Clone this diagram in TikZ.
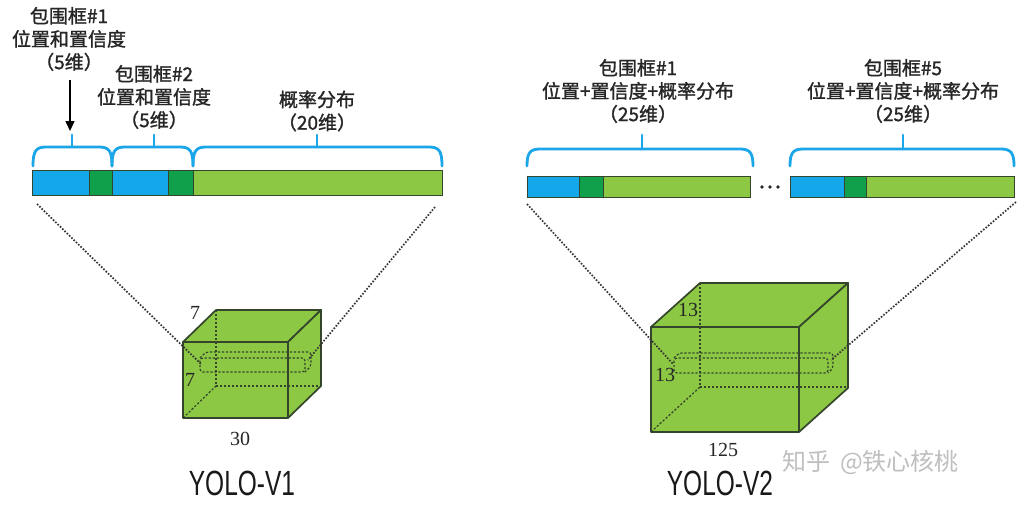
\documentclass[tikz,border=0pt]{standalone}
\usepackage{fontspec}
\setmainfont{Liberation Serif}
\setsansfont{Liberation Sans}
\newfontfamily\cjk[FakeBold=1.3]{Noto Sans CJK SC}
\newfontfamily\cjkw{Noto Sans CJK SC}
\usetikzlibrary{arrows.meta}
\definecolor{cblue}{HTML}{14A8EA}
\definecolor{dgreen}{HTML}{10A04C}
\definecolor{lgreen}{HTML}{8CC843}
\definecolor{bracec}{HTML}{1AA6E8}
\definecolor{edge}{HTML}{34452C}
\newcommand\mybrace[6]{% x0 x1 xm ytop ybot ytick
  \draw[brc] (#1,#5) .. controls (#1,#4+4) and (#1+3,#4) .. (#1+13,#4) -- (#2-13,#4)
     .. controls (#2-3,#4) and (#2,#4+4) .. (#2,#5);
  \draw[brc] (#3,#4) -- (#3,#6);}
\begin{document}
\begin{tikzpicture}[x=1pt,y=-1pt,
  seg/.style={draw=edge, line width=1.2pt, inner sep=0pt, anchor=north west},
  brc/.style={draw=bracec, line width=2.8pt, line cap=round, line join=round},
  lbl/.style={font=\cjk\fontsize{19}{23}\selectfont, align=center, inner sep=0pt, text=black!85},
  proj/.style={draw=black!80, line width=1.7pt, dash pattern=on 1.6pt off 1.6pt},
  cubef/.style={draw=edge, line width=1.7pt, fill=lgreen, line join=round},
  hid/.style={draw=edge, line width=1.2pt, dash pattern=on 2.2pt off 1.8pt},
  dimlbl/.style={font=\fontsize{20}{20}\selectfont, inner sep=0pt, text=black!85},
  yolo/.style={inner sep=0pt, text=black!90},
  dotn/.style={circle, fill=black!85, inner sep=0pt, minimum size=3.8pt},
]
\useasboundingbox (0,0) rectangle (1036,506);
\fill[white] (0,0) rectangle (1036,506);

% ---------- left bar ----------
\node[seg, fill=cblue,  minimum width=57pt,  minimum height=25pt] (b1) at (32,170) {};
\node[seg, fill=dgreen, minimum width=23pt,  minimum height=25pt] (b2) at (89,170) {};
\node[seg, fill=cblue,  minimum width=56pt,  minimum height=25pt] (b3) at (112,170) {};
\node[seg, fill=dgreen, minimum width=25pt,  minimum height=25pt] (b4) at (168,170) {};
\node[seg, fill=lgreen, minimum width=249pt, minimum height=25pt] (b5) at (193,170) {};

% braces left
\mybrace{33}{112}{72}{147}{166}{135}
\mybrace{112}{193}{154}{147}{166}{135}
\mybrace{193}{442}{317}{147}{166}{135}

% labels left
\node[lbl] (t1) at (69,39) {包围框\#1\\位置和置信度\\（5维）};
\node[lbl] (t2) at (154,97) {包围框\#2\\位置和置信度\\（5维）};
\node[lbl] (t3) at (317,111) {概率分布\\（20维）};
\coordinate (a0) at (70,80);
\coordinate (a1) at (70,131);
\draw[line width=1.4pt, -{Triangle[length=10pt,width=9pt]}] (a0) -- (a1);

% ---------- right bars ----------
\node[seg, fill=cblue,  minimum width=52pt,  minimum height=21pt] (r1) at (527,176) {};
\node[seg, fill=dgreen, minimum width=24pt,  minimum height=21pt] (r2) at (579,176) {};
\node[seg, fill=lgreen, minimum width=147pt, minimum height=21pt] (r3) at (603,176) {};
\node[dotn] (dt1) at (762,187) {};
\node[dotn] (dt2) at (770,187) {};
\node[dotn] (dt3) at (778,187) {};
\node[seg, fill=cblue,  minimum width=54pt,  minimum height=21pt] (s1) at (790,176) {};
\node[seg, fill=dgreen, minimum width=22pt,  minimum height=21pt] (s2) at (844,176) {};
\node[seg, fill=lgreen, minimum width=148pt, minimum height=21pt] (s3) at (866,176) {};

\mybrace{527}{753}{642}{149}{166}{135}
\mybrace{790}{1014}{903}{149}{166}{135}

\node[lbl] (u1) at (638,91) {包围框\#1\\位置+置信度+概率分布\\（25维）};
\node[lbl] (u2) at (903,91) {包围框\#5\\位置+置信度+概率分布\\（25维）};

% ---------- left cube ----------
\draw[cubef] (183,342) -- (216,310) -- (321,310) -- (288,342) -- cycle;
\draw[cubef] (288,342) -- (321,310) -- (321,386) -- (288,418) -- cycle;
\draw[cubef] (183,342) rectangle (288,418);
\draw[hid] (216,310) -- (216,386) -- (321,386);
\draw[hid] (183,418) -- (216,386);
\draw[hid, rounded corners=3pt] (200,358) rectangle (305,372);
\draw[hid, rounded corners=3pt] (200,358) -- (206,352) -- (311,352) -- (311,366) -- (305,372);
\coordinate (p1s) at (37,204);
\coordinate (p1e) at (201,364);
\coordinate (p2s) at (435,207);
\coordinate (p2e) at (308,360);
\draw[proj] (p1s) -- (p1e);
\draw[proj] (p2s) -- (p2e);
\node[dimlbl] (d1) at (195,313) {7};
\node[dimlbl] (d2) at (190,380) {7};
\node[dimlbl] (d3) at (240,439) {30};

% ---------- right cube ----------
\draw[cubef] (651,327) -- (700,283) -- (848,283) -- (799,327) -- cycle;
\draw[cubef] (799,327) -- (848,283) -- (848,388) -- (799,432) -- cycle;
\draw[cubef] (651,327) rectangle (799,432);
\draw[hid] (700,283) -- (700,387) -- (848,387);
\draw[hid] (651,432) -- (700,387);
\draw[hid, rounded corners=3pt] (674,358) rectangle (828,373);
\draw[hid, rounded corners=3pt] (674,358) -- (679,353) -- (833,353) -- (833,368) -- (828,373);
\coordinate (q1s) at (527,204);
\coordinate (q1e) at (673,364);
\coordinate (q2s) at (1016,202);
\coordinate (q2e) at (831,360);
\draw[proj] (q1s) -- (q1e);
\draw[proj] (q2s) -- (q2e);
\node[dimlbl] (e1) at (688,310) {13};
\node[dimlbl] (e2) at (665,375) {13};
\node[dimlbl] (e3) at (723,450) {125};

% ---------- titles ----------
\node[yolo] (y1) at (242,483) {\scalebox{0.7}[1]{\sffamily\fontsize{35}{35}\selectfont YOLO-V1}};
\node[yolo] (y2) at (720,483) {\scalebox{0.7}[1]{\sffamily\fontsize{35}{35}\selectfont YOLO-V2}};

% watermark
\node[anchor=west, inner sep=0pt, text=black!25, font=\cjkw\fontsize{24}{24}\selectfont] (wm) at (782,462) {知乎\hspace{10pt}@铁心核桃};
\end{tikzpicture}
\end{document}
